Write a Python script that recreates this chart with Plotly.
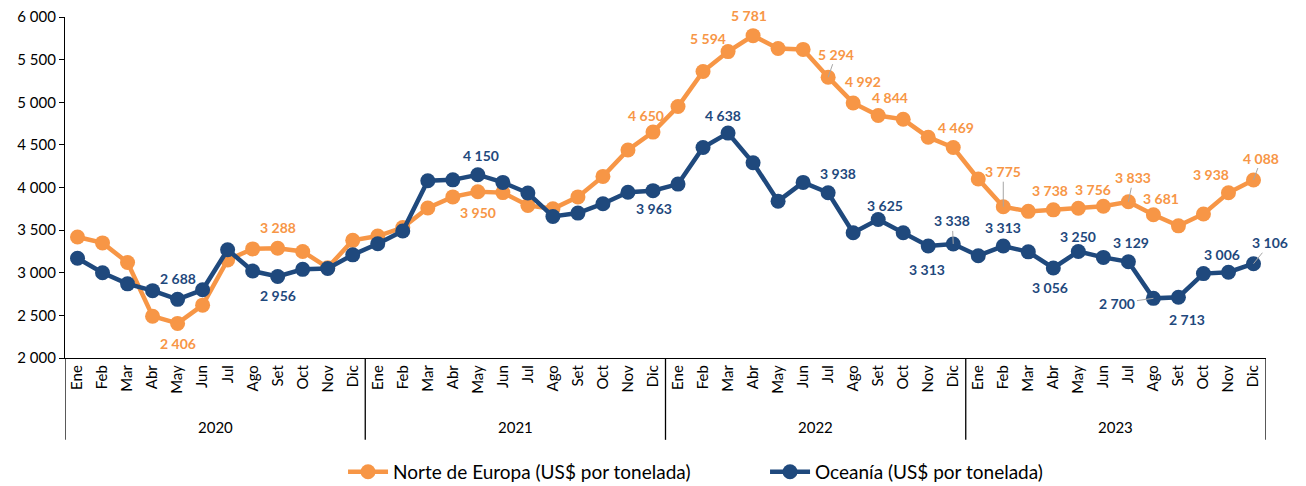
import plotly.graph_objects as go

months = ["Ene", "Feb", "Mar", "Abr", "May", "Jun", "Jul", "Ago", "Set", "Oct", "Nov", "Dic"]
years = ["2020", "2021", "2022", "2023"]

norte_europa = [
    3420, 3350, 3120, 2490, 2406, 2620, 3150, 3280, 3288, 3250, 3060, 3380,
    3430, 3530, 3760, 3890, 3950, 3940, 3790, 3750, 3890, 4130, 4440, 4650,
    4950, 5360, 5594, 5781, 5630, 5620, 5294, 4992, 4844, 4800, 4590, 4469,
    4100, 3775, 3720, 3738, 3756, 3780, 3833, 3681, 3550, 3690, 3938, 4088,
]
oceania = [
    3170, 3000, 2870, 2790, 2688, 2800, 3270, 3020, 2956, 3040, 3050, 3210,
    3340, 3490, 4080, 4090, 4150, 4060, 3935, 3660, 3700, 3810, 3945, 3963,
    4040, 4470, 4638, 4290, 3840, 4060, 3938, 3470, 3625, 3470, 3313, 3338,
    3200, 3313, 3245, 3056, 3250, 3180, 3129, 2700, 2713, 2990, 3006, 3106,
]

name_ne = "Norte de Europa (US$ por tonelada)"
name_oc = "Oceanía (US$ por tonelada)"
color_ne = "#F79646"
color_oc = "#1F497D"

# label placement: (index, dx px, dy px [up positive], leader line)
labels_ne = [
    (4, 0, -20, False), (8, 0, 21, False), (16, 0, -21, False), (23, -7, 17, False),
    (26, -20, 13, False), (27, -4, 20, False), (30, 8, 23, True), (31, 10, 21, False),
    (32, 12, 18, False), (35, 3, 20, False), (37, 0, 35, True), (39, -3, 19, False),
    (40, 15, 19, False), (42, 5, 24, True), (43, 8, 16, False), (46, -17, 18, False),
    (47, 8, 22, True),
]
labels_oc = [
    (4, 0, 21, False), (8, 0, -19, False), (16, 3, 19, False), (23, 1, -18, False),
    (26, -5, 18, False), (30, 10, 19, False), (32, 7, 14, False), (34, -1, -23, False),
    (35, -1, 23, True), (37, 0, 19, False), (39, -3, -20, False), (40, 0, 15, False),
    (42, 3, 19, False), (43, -36, -5, True), (44, 9, -22, False), (46, -6, 18, False),
    (47, 17, 21, True),
]

n = len(norte_europa)
xs = list(range(n))
month_ticks = [months[i % 12] for i in xs]

fig = go.Figure()
fig.add_trace(go.Scatter(
    x=xs, y=norte_europa, name=name_ne, mode="lines+markers",
    line=dict(color=color_ne, width=4.5),
    marker=dict(color=color_ne, size=15),
))
fig.add_trace(go.Scatter(
    x=xs, y=oceania, name=name_oc, mode="lines+markers",
    line=dict(color=color_oc, width=4.5),
    marker=dict(color=color_oc, size=15),
))

def fmt(v):
    return f"{v:,}".replace(",", " ")

annotations = []
for series, specs, col in ((norte_europa, labels_ne, color_ne), (oceania, labels_oc, color_oc)):
    for idx, dx, dy, leader in specs:
        if leader:
            annotations.append(dict(
                x=idx, y=series[idx], xref="x", yref="y", text=fmt(series[idx]),
                showarrow=True, ax=dx, ay=-dy, arrowhead=0, arrowwidth=1,
                arrowcolor="#A6A6A6", standoff=0,
                font=dict(family="Lato", size=14, color=col, weight="bold"),
            ))
        else:
            annotations.append(dict(
                x=idx, y=series[idx], xref="x", yref="y", text=fmt(series[idx]),
                showarrow=False, xshift=dx, yshift=dy,
                font=dict(family="Lato", size=14, color=col, weight="bold"),
            ))

for k, yr in enumerate(years):
    annotations.append(dict(
        x=k * 12 + 5.5, y=-0.202, xref="x", yref="paper", text=yr,
        showarrow=False, yanchor="middle",
        font=dict(family="Lato", size=15, color="#000000"),
    ))

shapes = []
for k in range(len(years) + 1):
    shapes.append(dict(
        type="line", xref="x", yref="paper", x0=k * 12 - 0.5, x1=k * 12 - 0.5,
        y0=0, y1=-0.24, line=dict(color="#000000", width=1.3),
    ))

fig.update_layout(
    width=1306, height=486,
    margin=dict(l=65, r=40, t=17, b=128, autoexpand=False),
    paper_bgcolor="white", plot_bgcolor="white",
    separators=", ",
    font=dict(family="Lato", size=14, color="#000000"),
    showlegend=True,
    legend=dict(
        orientation="h", x=0.2315, xanchor="left", y=-0.334, yanchor="middle",
        font=dict(family="Lato", size=19, color="#000000"),
        itemwidth=40, tracegroupgap=0, entrywidth=367,
    ),
    annotations=annotations,
    shapes=shapes,
    xaxis=dict(
        range=[-0.5, n - 0.5], tickmode="array", tickvals=xs, ticktext=month_ticks,
        tickangle=-90, showline=True, linecolor="#000000", linewidth=1.3,
        ticks="", showgrid=False, zeroline=False, automargin=False,
        tickfont=dict(family="Lato", size=15, color="#000000"),
    ),
    yaxis=dict(
        range=[2000, 6000], dtick=500, tickformat=",d", showline=True,
        linecolor="#000000", linewidth=1.3, ticks="outside", ticklen=5,
        tickcolor="#000000", showgrid=False, zeroline=False, automargin=False,
        ticklabeloverflow="allow",
        tickfont=dict(family="Lato", size=15, color="#000000"),
    ),
)

fig.write_html(
    "out.html",
    config={"displayModeBar": False},
    post_script="document.body.style.margin='0';document.body.style.overflow='hidden';",
)
